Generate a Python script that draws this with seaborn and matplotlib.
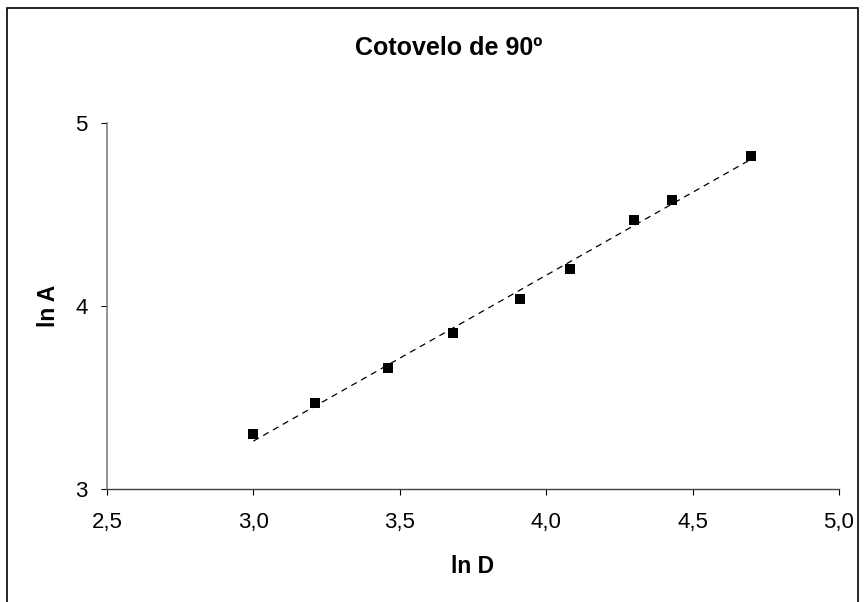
import matplotlib
matplotlib.use("Agg")
import matplotlib.pyplot as plt
import seaborn as sns
import pandas as pd
from matplotlib.patches import Rectangle

# ln D and ln A
ln_d = [3.00, 3.21, 3.46, 3.68, 3.91, 4.08, 4.30, 4.43, 4.70]
ln_a = [3.30, 3.47, 3.66, 3.85, 4.04, 4.20, 4.47, 4.58, 4.82]
x_ticks = [2.5, 3.0, 3.5, 4.0, 4.5, 5.0]
x_labels = ["2,5", "3,0", "3,5", "4,0", "4,5", "5,0"]
y_ticks = [3, 4, 5]

df = pd.DataFrame({"lnD": ln_d, "lnA": ln_a})

sns.set_style("white", {"text.color": "black", "axes.labelcolor": "black",
                        "xtick.color": "black", "ytick.color": "black"})
plt.rcParams["font.family"] = ["Liberation Sans", "DejaVu Sans"]

fig = plt.figure(figsize=(8.66, 6.02), dpi=100)
ax = fig.add_axes([107 / 866, 1 - 489 / 602, (839 - 107) / 866, (489 - 122.7) / 602])

sns.regplot(data=df, x="lnD", y="lnA", ax=ax, scatter=False, ci=None,
            line_kws=dict(color="black", lw=0.9, dashes=(5, 4)))
sns.scatterplot(data=df, x="lnD", y="lnA", ax=ax, marker="s", s=62,
                color="black", edgecolor="black", linewidth=0, zorder=3)

ax.set_xlim(2.5, 5.0)
ax.set_ylim(3, 5)
ax.set_xticks(x_ticks)
ax.set_xticklabels(x_labels)
ax.set_yticks(y_ticks)
ax.tick_params(axis="both", direction="out", length=4.3, width=0.8,
               labelsize=16, colors="black", bottom=True, left=True)
ax.tick_params(axis="x", pad=12)
ax.tick_params(axis="y", pad=9.5)
for s in ["top", "right"]:
    ax.spines[s].set_visible(False)
ax.spines["left"].set_color("#808080")
ax.spines["left"].set_linewidth(1.2)
ax.spines["bottom"].set_color("#404040")
ax.spines["bottom"].set_linewidth(1.0)

ax.set_xlabel("ln D", fontsize=16.5, fontweight="bold", labelpad=16)
ax.set_ylabel("ln A", fontsize=16.5, fontweight="bold", labelpad=11)
fig.text(449 / 866, 1 - 48 / 602, "Cotovelo de 90º",
         ha="center", va="center", fontsize=18, fontweight="bold")

# outer chart border
fig.patches.append(Rectangle((7 / 866, -0.01), (858 - 7) / 866, 1 - 8 / 602 + 0.01,
                             transform=fig.transFigure, fill=False,
                             edgecolor="black", lw=1.2))

fig.savefig("out.png", dpi=100)
